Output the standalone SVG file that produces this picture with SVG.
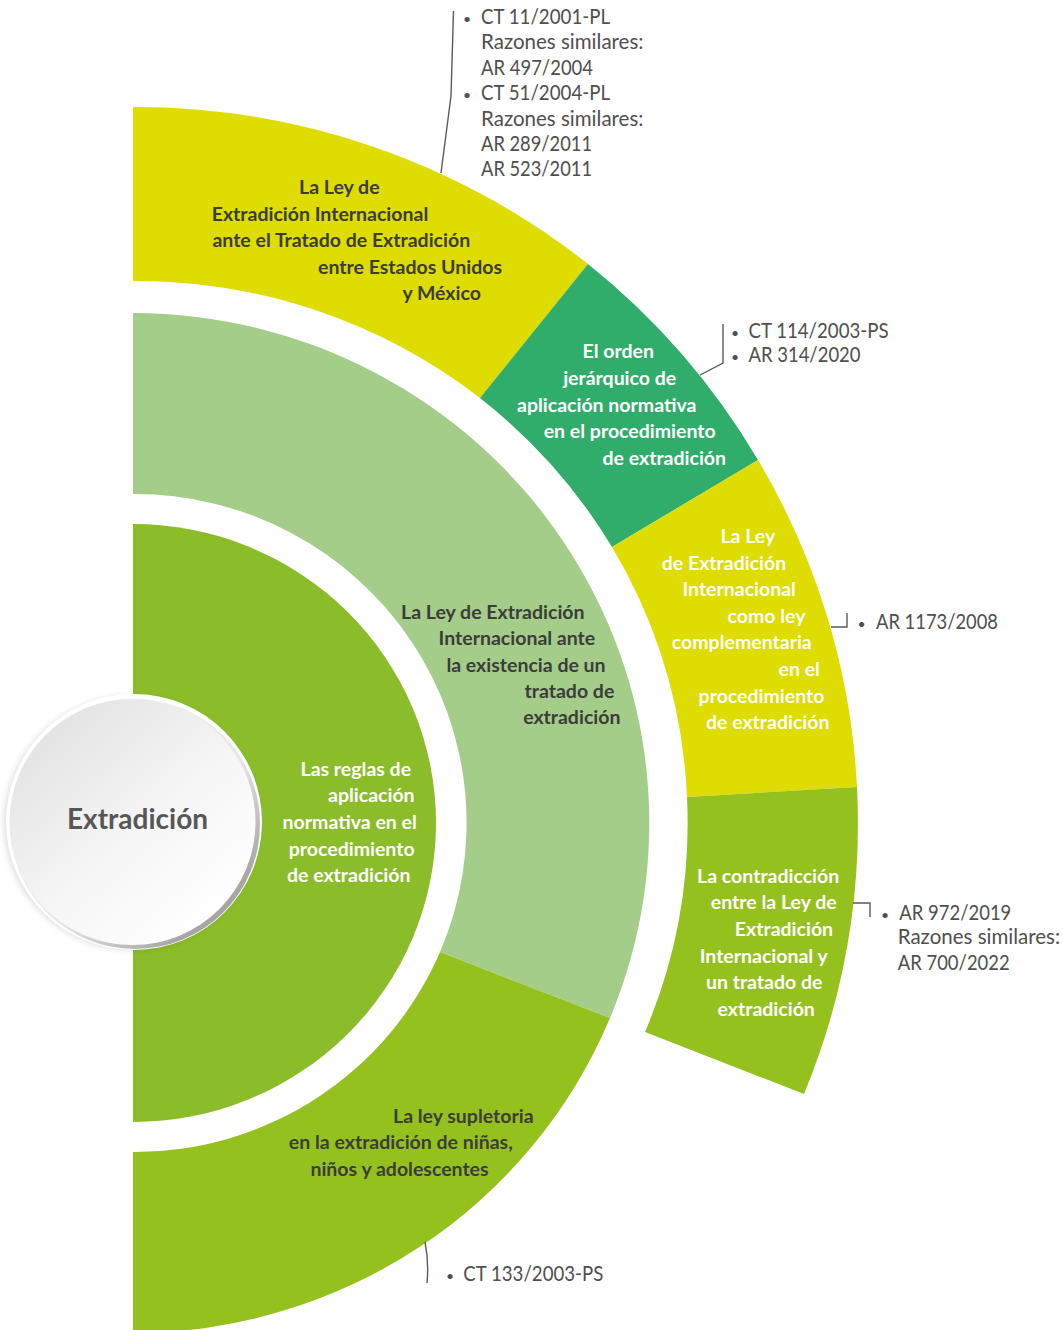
<svg xmlns="http://www.w3.org/2000/svg" width="1063" height="1330" viewBox="0 0 1063 1330">
<style>
.lbl{font-family:Lato,"Liberation Sans",sans-serif;font-weight:700;font-size:19.5px;text-anchor:middle}
.dk{fill:#3c3c3b}
.wh{fill:#ffffff}
.ref{font-family:Lato,"Liberation Sans",sans-serif;font-weight:400;font-size:20.5px;fill:#4f4f4e}
.bul{font-family:Lato,"Liberation Sans",sans-serif;font-size:14px;fill:#4f4f4e;text-anchor:middle}
.ld{fill:none;stroke:#5a5a59;stroke-width:1.4}
.yel{fill:#dedc00}
.dgr{fill:#30ad6b}
.lgr{fill:#a3cd89}
.igr{fill:#8bbc2a}
.bgr{fill:#95c11f}
</style>
<defs>
<linearGradient id="gBody" x1="0.15" y1="0.1" x2="0.85" y2="0.9">
<stop offset="0" stop-color="#e3e3e3"/>
<stop offset="0.55" stop-color="#f6f6f6"/>
<stop offset="1" stop-color="#ffffff"/>
</linearGradient>
<linearGradient id="gRim" x1="0.2" y1="0.2" x2="0.8" y2="0.85">
<stop offset="0" stop-color="#f2f2f2"/>
<stop offset="0.6" stop-color="#e6e6e6"/>
<stop offset="1" stop-color="#a6a6a6"/>
</linearGradient>
<filter id="sh" x="-20%" y="-20%" width="140%" height="140%">
<feGaussianBlur stdDeviation="3"/>
</filter>
</defs>
<rect width="1063" height="1330" fill="#ffffff"/>

<g id="seg-tratado-eu-mx">
<path class="yel" d="M133,107 A724,716 0 0,1 588,264 L480,398 A554,544 0 0,0 133,281 Z"/>
<text class="lbl dk"><tspan x="339.3" y="194.3">La Ley de</tspan><tspan x="320" y="220.5">Extradición Internacional</tspan><tspan x="341.3" y="247">ante el Tratado de Extradición</tspan><tspan x="410" y="274">entre Estados Unidos</tspan><tspan x="441.7" y="300">y México</tspan></text>
</g>

<g id="seg-orden-jerarquico">
<path class="dgr" d="M588,264 A724,716 0 0,1 758,460 L612,547 A554,544 0 0,0 480,398 Z"/>
<text class="lbl wh"><tspan x="618.3" y="358.3">El orden</tspan><tspan x="619.7" y="385">jerárquico de</tspan><tspan x="606.7" y="411.7">aplicación normativa</tspan><tspan x="629.7" y="438.3">en el procedimiento</tspan><tspan x="664.3" y="465">de extradición</tspan></text>
</g>

<g id="seg-ley-complementaria">
<path class="yel" d="M758,460 A724,716 0 0,1 857,787 L687,797 A554,544 0 0,0 612,547 Z"/>
<text class="lbl wh"><tspan x="747.8" y="543.3">La Ley</tspan><tspan x="724" y="570">de Extradición</tspan><tspan x="739.2" y="596">Internacional</tspan><tspan x="766.5" y="623.3">como ley</tspan><tspan x="741.8" y="649.3">complementaria</tspan><tspan x="799.2" y="676">en el</tspan><tspan x="761.5" y="702.7">procedimiento</tspan><tspan x="767.7" y="729.3">de extradición</tspan></text>
</g>

<g id="seg-contradiccion">
<path class="bgr" d="M857,787 A724,716 0 0,1 804,1094 L645,1032 A554,544 0 0,0 687,797 Z"/>
<text class="lbl wh"><tspan x="768.2" y="883.3">La contradicción</tspan><tspan x="773.8" y="909.3">entre la Ley de</tspan><tspan x="784" y="936">Extradición</tspan><tspan x="763.7" y="962.7">Internacional y</tspan><tspan x="764.2" y="989.3">un tratado de</tspan><tspan x="766.2" y="1016">extradición</tspan></text>
</g>

<g id="seg-existencia-tratado">
<path class="lgr" d="M133,313 A517,510 0 0,1 610,1018 L440,952 A332,329 0 0,0 133,494 Z"/>
<text class="lbl dk"><tspan x="492.8" y="619.3">La Ley de Extradición</tspan><tspan x="516.9" y="645">Internacional ante</tspan><tspan x="526" y="671.7">la existencia de un</tspan><tspan x="569.4" y="698.3">tratado de</tspan><tspan x="571.8" y="724.3">extradición</tspan></text>
</g>

<g id="seg-ley-supletoria">
<path class="bgr" d="M610,1018 A517,510 0 0,1 133,1333 L133,1152 A332,329 0 0,0 440,952 Z"/>
<text class="lbl dk"><tspan x="463.3" y="1123.3">La ley supletoria</tspan><tspan x="400.8" y="1149">en la extradición de niñas,</tspan><tspan x="399.5" y="1175.7">niños y adolescentes</tspan></text>
</g>

<g id="seg-reglas-aplicacion">
<path class="igr" d="M133,524 A303,299 0 0,1 436,823 A303,299 0 0,1 133,1122 Z"/>
<text class="lbl wh"><tspan x="355.8" y="776">Las reglas de</tspan><tspan x="371.3" y="801.7">aplicación</tspan><tspan x="349.7" y="829">normativa en el</tspan><tspan x="351.7" y="856">procedimiento</tspan><tspan x="348.7" y="881.7">de extradición</tspan></text>
</g>

<g id="center-extradicion">
<circle cx="131" cy="823" r="127" fill="#000" opacity="0.13" filter="url(#sh)"/>
<circle cx="134" cy="822" r="128" fill="#ffffff"/>
<circle cx="135" cy="824" r="125" fill="url(#gRim)"/>
<circle cx="132.5" cy="822" r="123" fill="url(#gBody)"/>
<text x="137.5" y="828.5" font-family="Lato,'Liberation Sans',sans-serif" font-weight="700" font-size="28" fill="#575756" text-anchor="middle">Extradición</text>
</g>

<g id="connectors">
<polyline class="ld" points="453.5,11 451,96 441,173"/>
<polyline class="ld" points="723,324 723,363 700,375"/>
<polyline class="ld" points="831,627 847,627 847,613"/>
<polyline class="ld" points="853,903 870,903 870,917"/>
<path class="ld" d="M425,1242 Q429,1262 427,1283"/>
</g>

<g id="refs-tratado-eu-mx">
<text class="bul" x="467" y="23.5">•</text>
<text class="ref" x="481" y="23.5" textLength="129" lengthAdjust="spacingAndGlyphs">CT 11/2001-PL</text>
<text class="ref" x="481" y="48.5">Razones similares:</text>
<text class="ref" x="481" y="74.5" textLength="112" lengthAdjust="spacingAndGlyphs">AR 497/2004</text>
<text class="bul" x="467" y="99.5">•</text>
<text class="ref" x="481" y="99.5" textLength="129" lengthAdjust="spacingAndGlyphs">CT 51/2004-PL</text>
<text class="ref" x="481" y="125.5">Razones similares:</text>
<text class="ref" x="481" y="150.5" textLength="111" lengthAdjust="spacingAndGlyphs">AR 289/2011</text>
<text class="ref" x="481" y="175.5" textLength="111" lengthAdjust="spacingAndGlyphs">AR 523/2011</text>
</g>

<g id="refs-orden-jerarquico">
<text class="bul" x="735" y="338">•</text>
<text class="ref" x="748.5" y="338" textLength="140" lengthAdjust="spacingAndGlyphs">CT 114/2003-PS</text>
<text class="bul" x="735" y="362">•</text>
<text class="ref" x="748.5" y="361.7" textLength="112" lengthAdjust="spacingAndGlyphs">AR 314/2020</text>
</g>

<g id="refs-ley-complementaria">
<text class="bul" x="861.5" y="629">•</text>
<text class="ref" x="876" y="629" textLength="122" lengthAdjust="spacingAndGlyphs">AR 1173/2008</text>
</g>

<g id="refs-contradiccion">
<text class="bul" x="885" y="920">•</text>
<text class="ref" x="899.3" y="920" textLength="112" lengthAdjust="spacingAndGlyphs">AR 972/2019</text>
<text class="ref" x="897.7" y="944.3">Razones similares:</text>
<text class="ref" x="897.7" y="970" textLength="112" lengthAdjust="spacingAndGlyphs">AR 700/2022</text>
</g>

<g id="refs-ley-supletoria">
<text class="bul" x="450" y="1281">•</text>
<text class="ref" x="463.3" y="1281" textLength="140" lengthAdjust="spacingAndGlyphs">CT 133/2003-PS</text>
</g>
</svg>
